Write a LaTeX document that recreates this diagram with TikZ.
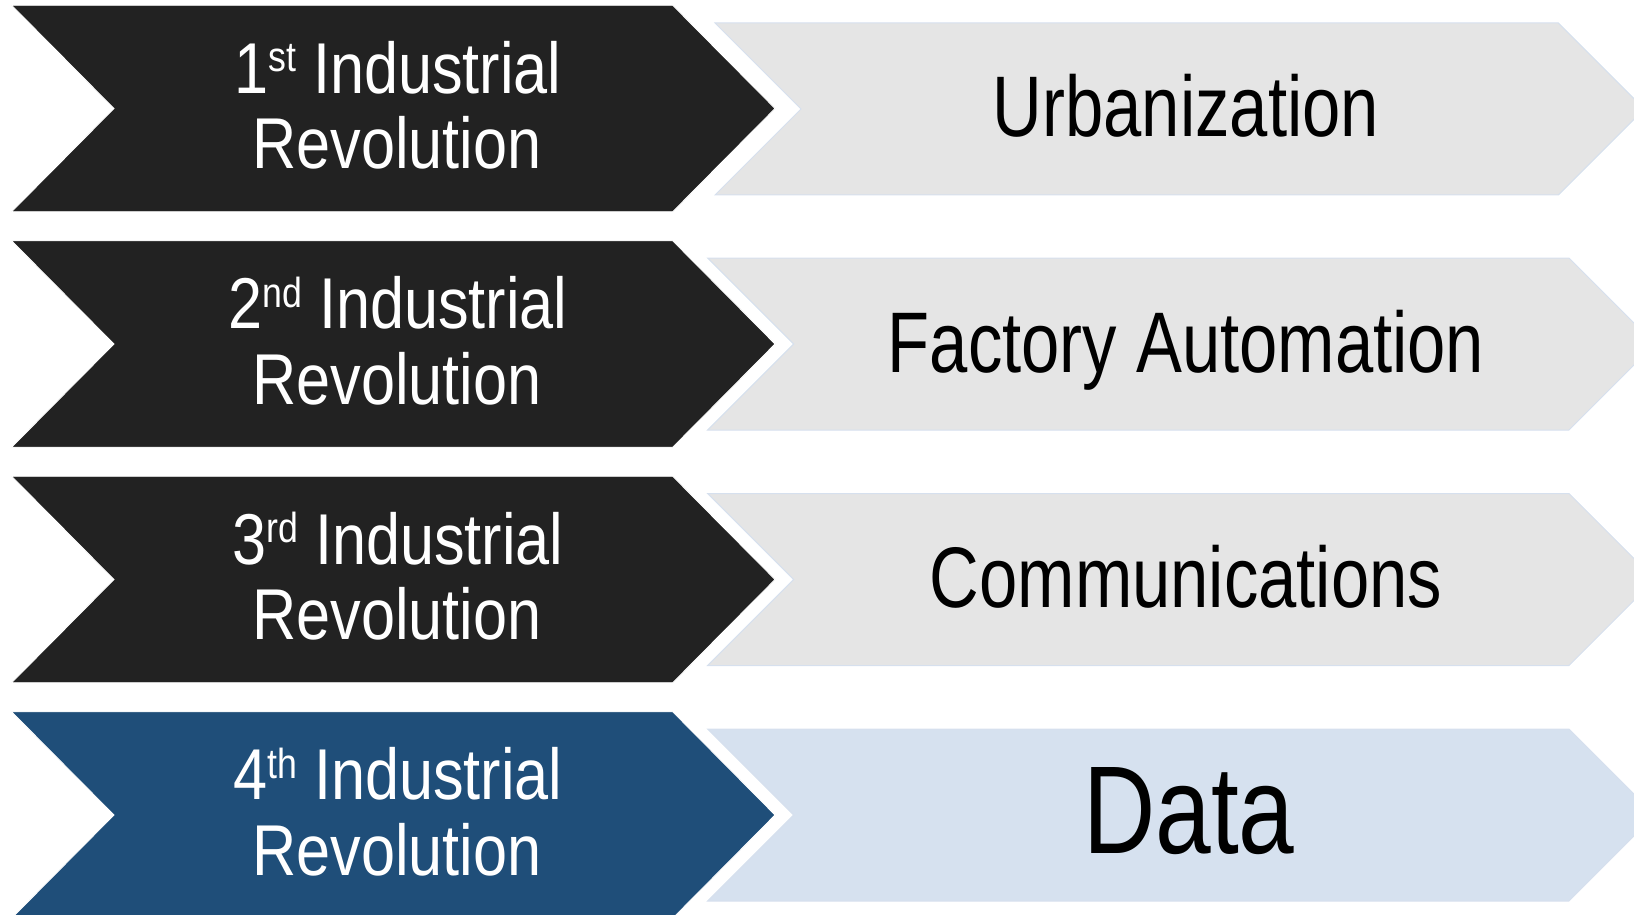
\documentclass[tikz,border=0pt]{standalone}
\usepackage{fontspec}
\setmainfont{Liberation Sans}[FakeStretch=0.8]
\newfontfamily\revfont{Liberation Sans}[FakeStretch=0.85]
\usepackage{tikz}

\definecolor{revdark}{HTML}{222222}
\definecolor{revblue}{HTML}{1F4E79}
\definecolor{themegrey}{HTML}{E5E5E5}
\definecolor{themeblue}{HTML}{D6E1EF}
\definecolor{themeedge}{HTML}{D6E0EE}

\newcommand{\ordinal}[1]{\raisebox{21.6pt}{\fontsize{42}{42}\selectfont #1}}

\tikzset{
	revo/.style={fill=revdark, draw=white, line width=0.8pt},
	theme/.style={fill=themegrey, draw=themeedge, line width=1pt},
	revtext/.style={text=white, font=\revfont\fontsize{72}{72}\selectfont, inner sep=0pt, anchor=base},
	themetext/.style={text=black, font=\fontsize{86}{86}\selectfont, inner sep=0pt, anchor=base}
}

\begin{document}
\begin{tikzpicture}[x=1pt, y=-1pt]
	\useasboundingbox (0,0) rectangle (1634,915);
	\clip (0,0) rectangle (1634,915);
	
	% revolutions
	\draw[revo] (11.7,5.3) -- ++(661,0) -- ++(102.3,103.2) -- ++(-102.3,103.2) -- ++(-661,0) -- ++(102.3,-103.2) -- cycle;
	\draw[revo] (11.7,240.8) -- ++(661,0) -- ++(102.3,103.2) -- ++(-102.3,103.2) -- ++(-661,0) -- ++(102.3,-103.2) -- cycle;
	\draw[revo] (11.7,476.3) -- ++(661,0) -- ++(102.3,103.2) -- ++(-102.3,103.2) -- ++(-661,0) -- ++(102.3,-103.2) -- cycle;
	\draw[revo, fill=revblue] (11.7,711.8) -- ++(661,0) -- ++(102.3,103.2) -- ++(-102.3,103.2) -- ++(-661,0) -- ++(102.3,-103.2) -- cycle;
	
	% themes
	\draw[theme] (715,23) -- ++(843.3,0) -- ++(86,86) -- ++(-86,86) -- ++(-843.3,0) -- ++(86,-86) -- cycle;
	\draw[theme] (707.6,258) -- ++(861.4,0) -- ++(86,86) -- ++(-86,86) -- ++(-861.4,0) -- ++(86,-86) -- cycle;
	\draw[theme] (707.6,493.5) -- ++(861.4,0) -- ++(86,86) -- ++(-86,86) -- ++(-861.4,0) -- ++(86,-86) -- cycle;
	\draw[theme, fill=themeblue] (707.6,729) -- ++(861.4,0) -- ++(86,86) -- ++(-86,86) -- ++(-861.4,0) -- ++(86,-86) -- cycle;
	
	\node[revtext] (rev1a) at (398,93.3) {1\ordinal{st} Industrial};
	\node[revtext] (rev1b) at (397,168.5) {Revolution};
	\node[revtext] (rev2a) at (398,328.8) {2\ordinal{nd} Industrial};
	\node[revtext] (rev2b) at (397,404) {Revolution};
	\node[revtext] (rev3a) at (398,564.3) {3\ordinal{rd} Industrial};
	\node[revtext] (rev3b) at (397,639.5) {Revolution};
	\node[revtext] (rev4a) at (398,799.8) {4\ordinal{th} Industrial};
	\node[revtext] (rev4b) at (397,875) {Revolution};
	
	\node[themetext] (urban) at (1186,136.5) {Urbanization};
	\node[themetext] (factory) at (1186,372) {Factory Automation};
	\node[themetext] (comm) at (1186,607.5) {Communications};
	\node[themetext, font=\fontsize{125}{125}\selectfont] (data) at (1189,853.3) {Data};
\end{tikzpicture}
\end{document}
